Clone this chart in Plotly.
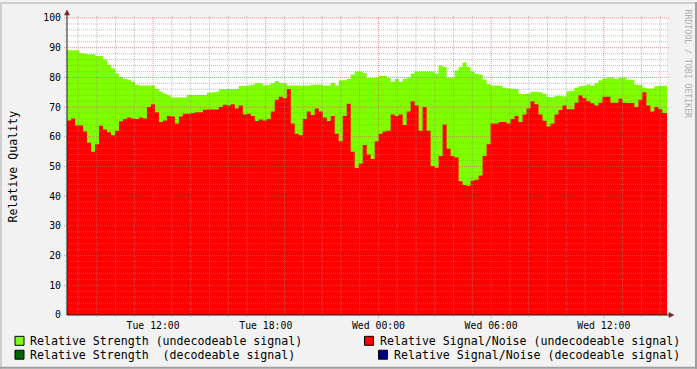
import pandas as pd
import plotly.graph_objects as go

# ---------------- data ----------------
start_time = "2024-01-02 07:24:54"   # a Tuesday
step_seconds = 766
span_hours = 31.95

strength_undecodeable = [
    89.1, 89.1, 89.1, 88.2, 88.0, 87.8, 87.8, 87.2, 87.2, 86.0,
    84.3, 83.0, 81.3, 80.1, 79.5, 79.2, 78.5, 77.5, 77.3, 77.3,
    77.3, 77.3, 76.1, 75.2, 74.5, 74.0, 73.2, 73.2, 73.2, 73.2,
    74.1, 74.1, 74.1, 74.1, 74.1, 74.8, 75.0, 75.2, 76.0, 76.1,
    76.1, 76.1, 76.1, 77.1, 77.2, 77.3, 77.5, 78.0, 78.0, 77.3,
    77.5, 78.0, 78.8, 78.1, 78.0, 77.3, 77.3, 77.3, 77.3, 77.3,
    77.3, 77.5, 77.5, 77.5, 77.3, 77.3, 78.2, 77.3, 79.0, 79.0,
    79.5, 81.0, 82.0, 82.0, 81.5, 79.8, 79.8, 80.0, 80.5, 80.5,
    79.8, 78.5, 79.5, 78.5, 79.5, 80.0, 81.3, 82.0, 82.0, 82.0,
    82.0, 82.0, 81.3, 84.0, 83.5, 80.0, 80.0, 82.3, 83.5, 85.0,
    83.5, 82.0, 81.2, 81.0, 79.3, 77.8, 77.3, 77.3, 77.2, 76.4,
    76.3, 76.2, 76.1, 74.5, 74.4, 74.6, 75.2, 75.2, 75.0, 74.5,
    73.4, 73.4, 73.8, 73.8, 73.6, 75.3, 75.5, 76.5, 77.0, 77.2,
    77.6, 77.2, 78.0, 79.0, 79.6, 80.0, 80.0, 79.5, 80.0, 80.0,
    79.2, 79.2, 77.5, 77.4, 76.5, 76.3, 76.3, 77.0, 77.2, 77.2,
]

signal_noise_undecodeable = [
    65.5, 66.2, 63.8, 63.8, 61.8, 58.0, 55.0, 57.5, 63.7, 62.5,
    61.5, 60.5, 62.0, 65.2, 66.0, 66.5, 66.2, 66.0, 66.5, 66.2,
    70.0, 71.0, 68.3, 65.0, 65.5, 67.0, 66.8, 64.5, 66.8, 67.8,
    67.8, 68.0, 68.3, 68.3, 69.1, 69.2, 69.2, 69.2, 70.0, 70.8,
    70.5, 71.0, 69.5, 70.5, 67.5, 67.8, 67.0, 65.3, 65.8, 65.5,
    66.0, 68.5, 72.5, 73.5, 73.0, 76.1, 64.5, 61.0, 60.5, 66.0,
    68.5, 67.3, 69.5, 68.5, 66.5, 65.3, 67.0, 61.0, 58.5, 67.0,
    71.1, 55.0, 49.5, 51.0, 57.2, 54.0, 52.5, 58.5, 61.0, 61.8,
    62.0, 67.5, 67.0, 67.5, 64.0, 68.5, 72.0, 70.5, 62.0, 70.0,
    62.0, 50.2, 49.6, 53.5, 64.1, 56.0, 53.5, 53.0, 45.0, 43.8,
    43.5, 45.2, 45.5, 47.0, 53.5, 57.5, 64.5, 64.5, 65.0, 65.0,
    64.5, 66.0, 67.0, 65.0, 67.5, 69.5, 72.0, 71.0, 67.5, 65.4,
    63.5, 64.5, 67.5, 69.0, 70.5, 69.3, 69.3, 71.5, 74.0, 73.0,
    72.0, 71.3, 70.5, 71.5, 73.5, 73.5, 71.5, 71.5, 72.8, 71.5,
    71.4, 71.4, 70.0, 72.5, 75.0, 70.5, 68.5, 70.0, 69.3, 68.0,
]

y_tick_values = [0, 10, 20, 30, 40, 50, 60, 70, 80, 90, 100]
legend_labels = [
    "Relative Strength (undecodeable signal)",
    "Relative Strength  (decodeable signal)",
    "Relative Signal/Noise (undecodeable signal)",
    "Relative Signal/Noise (decodeable signal)",
]
legend_colors = ["#7FFF00", "#006400", "#FF0000", "#000080"]
watermark = "RRDTOOL / TOBI OETIKER"

# ---------------- geometry ----------------
W, H = 697, 369
PL, PR, PT, PB = 67, 667, 16, 315


def px(x):
    return (x - PL) / (PR - PL)


def py(y):
    return (PB - y) / (PB - PT)


t0 = pd.Timestamp(start_time)
t_end = t0 + pd.Timedelta(hours=span_hours)
times = list(pd.date_range(t0, periods=len(strength_undecodeable), freq=f"{step_seconds}s"))
x_all = times + [t_end]


def hold_last(vals):
    return list(vals) + [vals[-1]]


def t_to_paper(t):
    return (t - t0) / (t_end - t0)


FONT = "DejaVu Sans Mono"

fig = go.Figure()
fig.add_trace(go.Scatter(
    x=x_all, y=hold_last(strength_undecodeable), mode="lines", line_shape="hv",
    line=dict(width=0, color="#7FFF00"), fill="tozeroy", fillcolor="#7FFF00",
    name=legend_labels[0], showlegend=False, hoverinfo="skip"))
fig.add_trace(go.Scatter(
    x=x_all, y=hold_last(signal_noise_undecodeable), mode="lines", line_shape="hv",
    line=dict(width=0, color="#FF0000"), fill="tozeroy", fillcolor="#FF0000",
    name=legend_labels[2], showlegend=False, hoverinfo="skip"))

shapes = []
MINOR = "rgba(143,143,143,0.55)"
MAJOR = "rgba(222,79,79,0.6)"
DASH = "1px,1px"

# horizontal grid
for v in range(0, 101, 2):
    major = v % 10 == 0
    if v == 0:
        continue
    shapes.append(dict(type="line", xref="paper", yref="paper",
                       x0=px(64 if major else 65), x1=px(669), y0=v / 100, y1=v / 100,
                       line=dict(color=MAJOR if major else MINOR, width=1, dash=DASH),
                       layer="above"))
# vertical grid
h = t0.ceil("h")
while h < t_end:
    major = h.hour % 6 == 0
    xp = t_to_paper(h)
    shapes.append(dict(type="line", xref="paper", yref="paper",
                       x0=xp, x1=xp, y0=py(318 if major else 317), y1=py(14),
                       line=dict(color=MAJOR if major else MINOR, width=1, dash=DASH),
                       layer="above"))
    h += pd.Timedelta(hours=1)

# axes
AX = "#1F1F1F"
ARROW = "#801F1F"
shapes.append(dict(type="line", xref="paper", yref="paper", x0=0, x1=0,
                   y0=py(315), y1=py(12), line=dict(color=AX, width=1), layer="above"))
shapes.append(dict(type="line", xref="paper", yref="paper", x0=0, x1=px(670),
                   y0=0, y1=0, line=dict(color=AX, width=1), layer="above"))
shapes.append(dict(type="path", xref="paper", yref="paper",
                   path=f"M {px(64.5)} {py(13)} L {px(69.5)} {py(13)} L {px(67)} {py(8)} Z",
                   fillcolor=ARROW, line=dict(color=ARROW, width=0.5), layer="above"))
shapes.append(dict(type="path", xref="paper", yref="paper",
                   path=f"M {px(669)} {py(312.5)} L {px(669)} {py(317.5)} L {px(674)} {py(315)} Z",
                   fillcolor=ARROW, line=dict(color=ARROW, width=0.5), layer="above"))

# frame shading
shapes.append(dict(type="rect", xref="paper", yref="paper", x0=px(0), x1=px(W), y0=py(0), y1=py(2),
                   fillcolor="#CFCFCF", line=dict(width=0), layer="above"))
shapes.append(dict(type="rect", xref="paper", yref="paper", x0=px(0), x1=px(2), y0=py(0), y1=py(H),
                   fillcolor="#CFCFCF", line=dict(width=0), layer="above"))
shapes.append(dict(type="rect", xref="paper", yref="paper", x0=px(0), x1=px(W), y0=py(H - 2), y1=py(H),
                   fillcolor="#9E9E9E", line=dict(width=0), layer="above"))
shapes.append(dict(type="rect", xref="paper", yref="paper", x0=px(W - 2), x1=px(W), y0=py(0), y1=py(H),
                   fillcolor="#9E9E9E", line=dict(width=0), layer="above"))

# legend boxes + texts
legend_pos = [  # (box_left, text_left, center_y)
    (15, 30, 341),
    (15, 30, 355),
    (364.5, 380, 341),
    (378.5, 394, 355),
]
annotations = []
for (bx, tx, cy), lab, col in zip(legend_pos, legend_labels, legend_colors):
    shapes.append(dict(type="rect", xref="paper", yref="paper",
                       x0=px(bx), x1=px(bx + 9), y0=py(cy - 4.5), y1=py(cy + 4.5),
                       fillcolor=col, line=dict(color="#000000", width=1), layer="above"))
    annotations.append(dict(text=lab, xref="paper", yref="paper", x=px(tx - 2), y=py(cy),
                            xanchor="left", yanchor="middle", showarrow=False,
                            font=dict(family=FONT, size=11.6, color="#000000")))

annotations.append(dict(text="Relative Quality", xref="paper", yref="paper",
                        x=px(12), y=py(165.5), textangle=-90, showarrow=False,
                        xanchor="center", yanchor="middle",
                        font=dict(family=FONT, size=11.6, color="#000000")))
annotations.append(dict(text=watermark, xref="paper", yref="paper",
                        x=px(688), y=py(5), textangle=90, showarrow=False,
                        xanchor="center", yanchor="top",
                        font=dict(family=FONT, size=8.2, color="#B0B0B0")))

fig.update_layout(
    width=W, height=H,
    margin=dict(l=PL, r=W - PR, t=PT, b=H - PB, pad=0),
    paper_bgcolor="#F2F2F2", plot_bgcolor="#FFFFFF",
    showlegend=False,
    shapes=shapes, annotations=annotations,
    font=dict(family=FONT, size=9.8, color="#000000"),
    xaxis=dict(type="date", range=[t0, t_end], showgrid=False, zeroline=False,
               showline=False, ticks="", tick0="2024-01-02 00:00:00", dtick=6 * 3600 * 1000,
               tickformat="%a %H:%M", ticklabelstandoff=3,
               tickfont=dict(family=FONT, size=9.8, color="#000000")),
    yaxis=dict(range=[0, 100], showgrid=False, zeroline=False, showline=False,
               ticks="", tickvals=y_tick_values, ticklabelstandoff=5,
               tickfont=dict(family=FONT, size=9.8, color="#000000")),
)

fig.write_html("out.html")
